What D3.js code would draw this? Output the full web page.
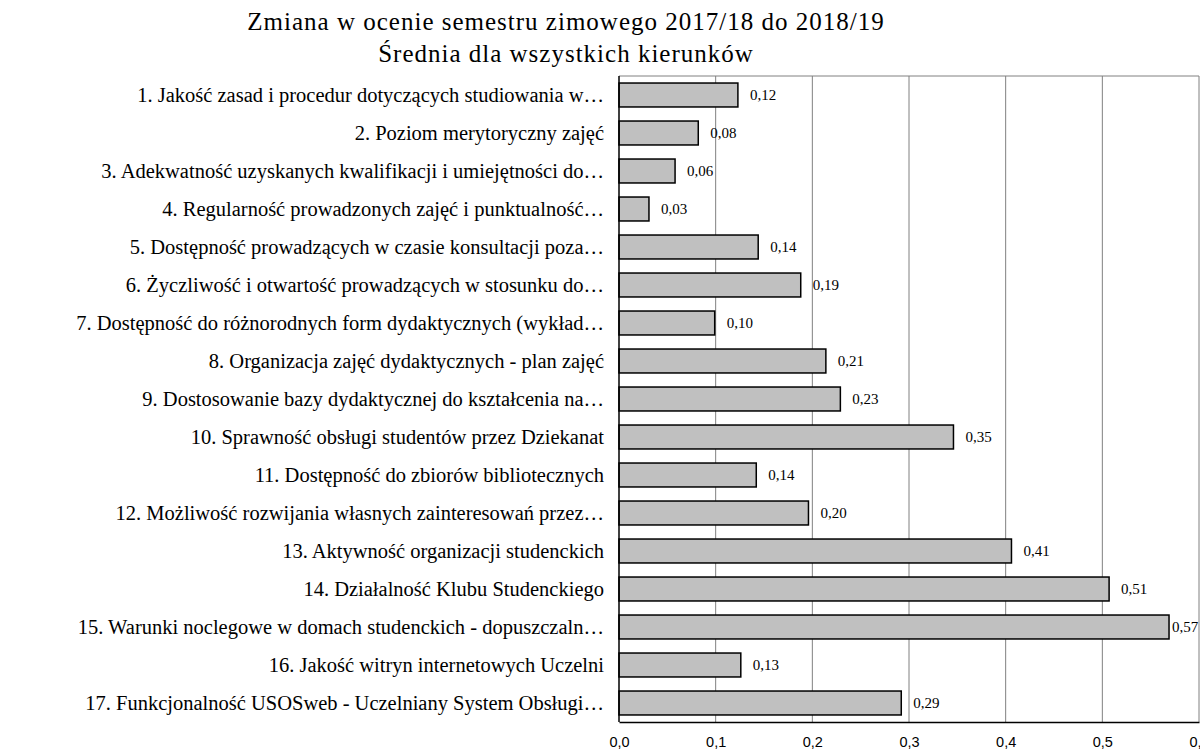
<!doctype html>
<html lang="pl">
<head>
<meta charset="UTF-8">
<title>Zmiana w ocenie semestru zimowego</title>
<script src="https://d3js.org/d3.v7.min.js"></script>
<style>
  body { margin: 0; background: #fff; }
  svg { font-family: 'Liberation Serif', 'Times New Roman', serif; }
  .title { font-size: 25px; fill: #000; letter-spacing: 1px; }
  .cat { font-size: 20.5px; fill: #000; }
  .val { font-size: 15px; fill: #000; }
  .tick text { font-size: 14.5px; fill: #000; }
  .bar { fill: #c0c0c0; stroke: #000; stroke-width: 1.5px; }
  .grid line { stroke: #808080; stroke-width: 1px; }
</style>
</head>
<body>
<script>
// dane
const categories = [
  "1. Jakość zasad i procedur dotyczących studiowania w…",
  "2. Poziom merytoryczny zajęć",
  "3. Adekwatność uzyskanych kwalifikacji i umiejętności do…",
  "4. Regularność prowadzonych zajęć i punktualność…",
  "5. Dostępność prowadzących w czasie konsultacji poza…",
  "6. Życzliwość i otwartość prowadzących w stosunku do…",
  "7. Dostępność do różnorodnych form dydaktycznych (wykład…",
  "8. Organizacja zajęć dydaktycznych - plan zajęć",
  "9. Dostosowanie bazy dydaktycznej do kształcenia na…",
  "10. Sprawność obsługi studentów przez Dziekanat",
  "11. Dostępność do zbiorów bibliotecznych",
  "12. Możliwość rozwijania własnych zainteresowań przez…",
  "13. Aktywność organizacji studenckich",
  "14. Działalność Klubu Studenckiego",
  "15. Warunki noclegowe w domach studenckich - dopuszczaln…",
  "16. Jakość witryn internetowych Uczelni",
  "17. Funkcjonalność USOSweb - Uczelniany System Obsługi…"
];
const values = [0.123, 0.082, 0.058, 0.031, 0.144, 0.188, 0.099, 0.214, 0.229,
                0.346, 0.142, 0.196, 0.406, 0.507, 0.569, 0.126, 0.292];
const ticks = [0, 0.1, 0.2, 0.3, 0.4, 0.5, 0.6];
const titleLines = ["Zmiana w ocenie semestru zimowego 2017/18 do 2018/19",
                    "Średnia dla wszystkich kierunków"];

const width = 1200, height = 751;
const margin = {top: 76, right: 1, bottom: 29, left: 619};

const svg = d3.select('body').append('svg')
    .attr('width', width)
    .attr('height', height);

const x = d3.scaleLinear()
    .domain([0, 0.6])
    .range([margin.left, width - margin.right]);

const y = d3.scaleBand()
    .domain(categories)
    .range([margin.top, height - margin.bottom])
    .paddingInner(0.37)
    .paddingOuter(0.185);

const fmt = v => d3.format('.1f')(v).replace('.', ',');
const fmt2 = v => d3.format('.2f')(v).replace('.', ',');

// linie siatki
svg.append('g')
    .attr('class', 'grid')
    .selectAll('line')
    .data(ticks.slice(1))
    .enter().append('line')
    .attr('x1', d => x(d)).attr('x2', d => x(d))
    .attr('y1', margin.top).attr('y2', height - margin.bottom);

svg.append('line')
    .attr('x1', margin.left).attr('x2', x(0.6))
    .attr('y1', margin.top).attr('y2', margin.top)
    .attr('stroke', '#808080');

// słupki
svg.selectAll('.bar')
    .data(values)
    .enter().append('rect')
    .attr('class', 'bar')
    .attr('x', x(0))
    .attr('y', (d, i) => y(categories[i]))
    .attr('width', d => x(d) - x(0))
    .attr('height', y.bandwidth());

// etykiety wartości
svg.selectAll('.val')
    .data(values)
    .enter().append('text')
    .attr('class', 'val')
    .attr('x', d => Math.min(x(d) + 12, width - 28))
    .attr('y', (d, i) => y(categories[i]) + y.bandwidth() / 2)
    .attr('dy', '0.35em')
    .text(d => fmt2(d));

// oś pionowa + kategorie
svg.append('line')
    .attr('x1', margin.left).attr('x2', margin.left)
    .attr('y1', margin.top).attr('y2', height - margin.bottom)
    .attr('stroke', '#000').attr('stroke-width', 1.5);

svg.selectAll('.cat')
    .data(categories)
    .enter().append('text')
    .attr('class', 'cat')
    .attr('x', margin.left - 15)
    .attr('y', d => y(d) + y.bandwidth() / 2)
    .attr('dy', '0.35em')
    .attr('text-anchor', 'end')
    .text(d => d);

// oś pozioma
const xAxis = d3.axisBottom(x)
    .tickValues(ticks)
    .tickSize(0)
    .tickPadding(15)
    .tickFormat(fmt);

svg.append('g')
    .attr('transform', `translate(0,${height - margin.bottom})`)
    .call(xAxis)
    .call(g => g.select('.domain').attr('stroke', '#000').attr('stroke-width', 1.5));

// tytuł
svg.selectAll('.title')
    .data(titleLines)
    .enter().append('text')
    .attr('class', 'title')
    .attr('x', 566)
    .attr('y', (d, i) => 30 + i * 32)
    .attr('text-anchor', 'middle')
    .text(d => d);
</script>
</body>
</html>
